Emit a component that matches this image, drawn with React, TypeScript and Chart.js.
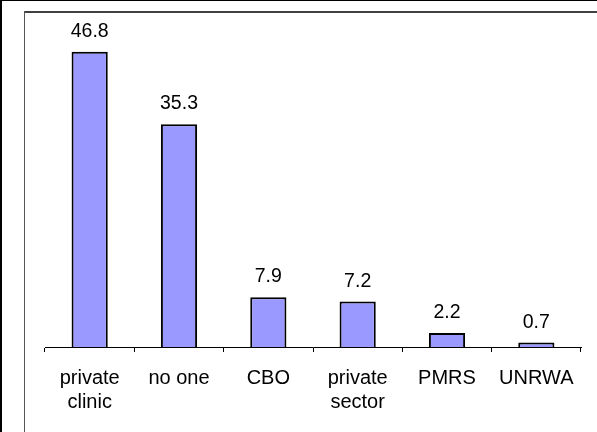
import React, { useEffect, useRef } from "react";
import { Chart, registerables } from "chart.js";

Chart.register(...registerables);

const categories: string[][] = [
  ["private", "clinic"],
  ["no one"],
  ["CBO"],
  ["private", "sector"],
  ["PMRS"],
  ["UNRWA"],
];
const values: number[] = [46.8, 35.3, 7.9, 7.2, 2.2, 0.7];
const yMin = 0;
const yMax = 50;

const FONT = "'Liberation Sans', Arial, sans-serif";

const framePlugin = {
  id: "frame",
  afterDraw(chart: any) {
    const ctx = chart.ctx as CanvasRenderingContext2D;
    const w = chart.width;
    const h = chart.height;
    ctx.save();
    ctx.fillStyle = "#000";
    ctx.fillRect(0, 0, 2, h);
    ctx.fillRect(0, 0, w, 1);
    ctx.fillStyle = "#404040";
    ctx.fillRect(24, 11, w - 24, 2);
    ctx.fillStyle = "#555";
    ctx.fillRect(24, 11, 1, h - 11);
    ctx.restore();
  },
};

const labelPlugin = {
  id: "valueLabels",
  afterDatasetsDraw(chart: any) {
    const ctx = chart.ctx as CanvasRenderingContext2D;
    const meta = chart.getDatasetMeta(0);
    const data = chart.data.datasets[0].data as number[];
    ctx.save();
    ctx.font = `19.5px ${FONT}`;
    ctx.fillStyle = "#000";
    ctx.textAlign = "center";
    ctx.textBaseline = "alphabetic";
    meta.data.forEach((bar: any, i: number) => {
      ctx.fillText(data[i].toFixed(1), bar.x, bar.y - 15);
    });
    ctx.restore();
  },
};

export default function App() {
  const ref = useRef<HTMLCanvasElement | null>(null);
  useEffect(() => {
    if (!ref.current) return;
    const chart = new Chart(ref.current, {
      type: "bar",
      data: {
        labels: categories,
        datasets: [
          {
            data: values,
            backgroundColor: "#9999FF",
            borderColor: "#000",
            borderWidth: 2,
            borderSkipped: "start",
            barPercentage: 0.405,
            categoryPercentage: 1,
          },
        ],
      },
      options: {
        responsive: false,
        animation: false,
        devicePixelRatio: 1,
        layout: { padding: { left: 45, right: 16, top: 31.5, bottom: 4 } },
        plugins: {
          legend: { display: false },
          tooltip: { enabled: false },
        },
        scales: {
          x: {
            grid: {
              display: true,
              drawOnChartArea: false,
              drawTicks: true,
              tickLength: 5,
              offset: true,
              color: "#000",
              lineWidth: 1,
            },
            border: { display: true, color: "#000", width: 1 },
            ticks: {
              color: "#000",
              padding: 14,
              maxRotation: 0,
              autoSkip: false,
              font: { family: FONT, size: 20, lineHeight: 1.2 },
            },
          },
          y: {
            display: false,
            min: yMin,
            max: yMax,
          },
        },
      },
      plugins: [labelPlugin, framePlugin],
    });
    return () => chart.destroy();
  }, []);
  return (
    <div style={{ position: "fixed", left: 0, top: 0, width: 597, height: 432, background: "#fff" }}>
      <canvas ref={ref} width={597} height={432} style={{ width: 597, height: 432 }} />
    </div>
  );
}
